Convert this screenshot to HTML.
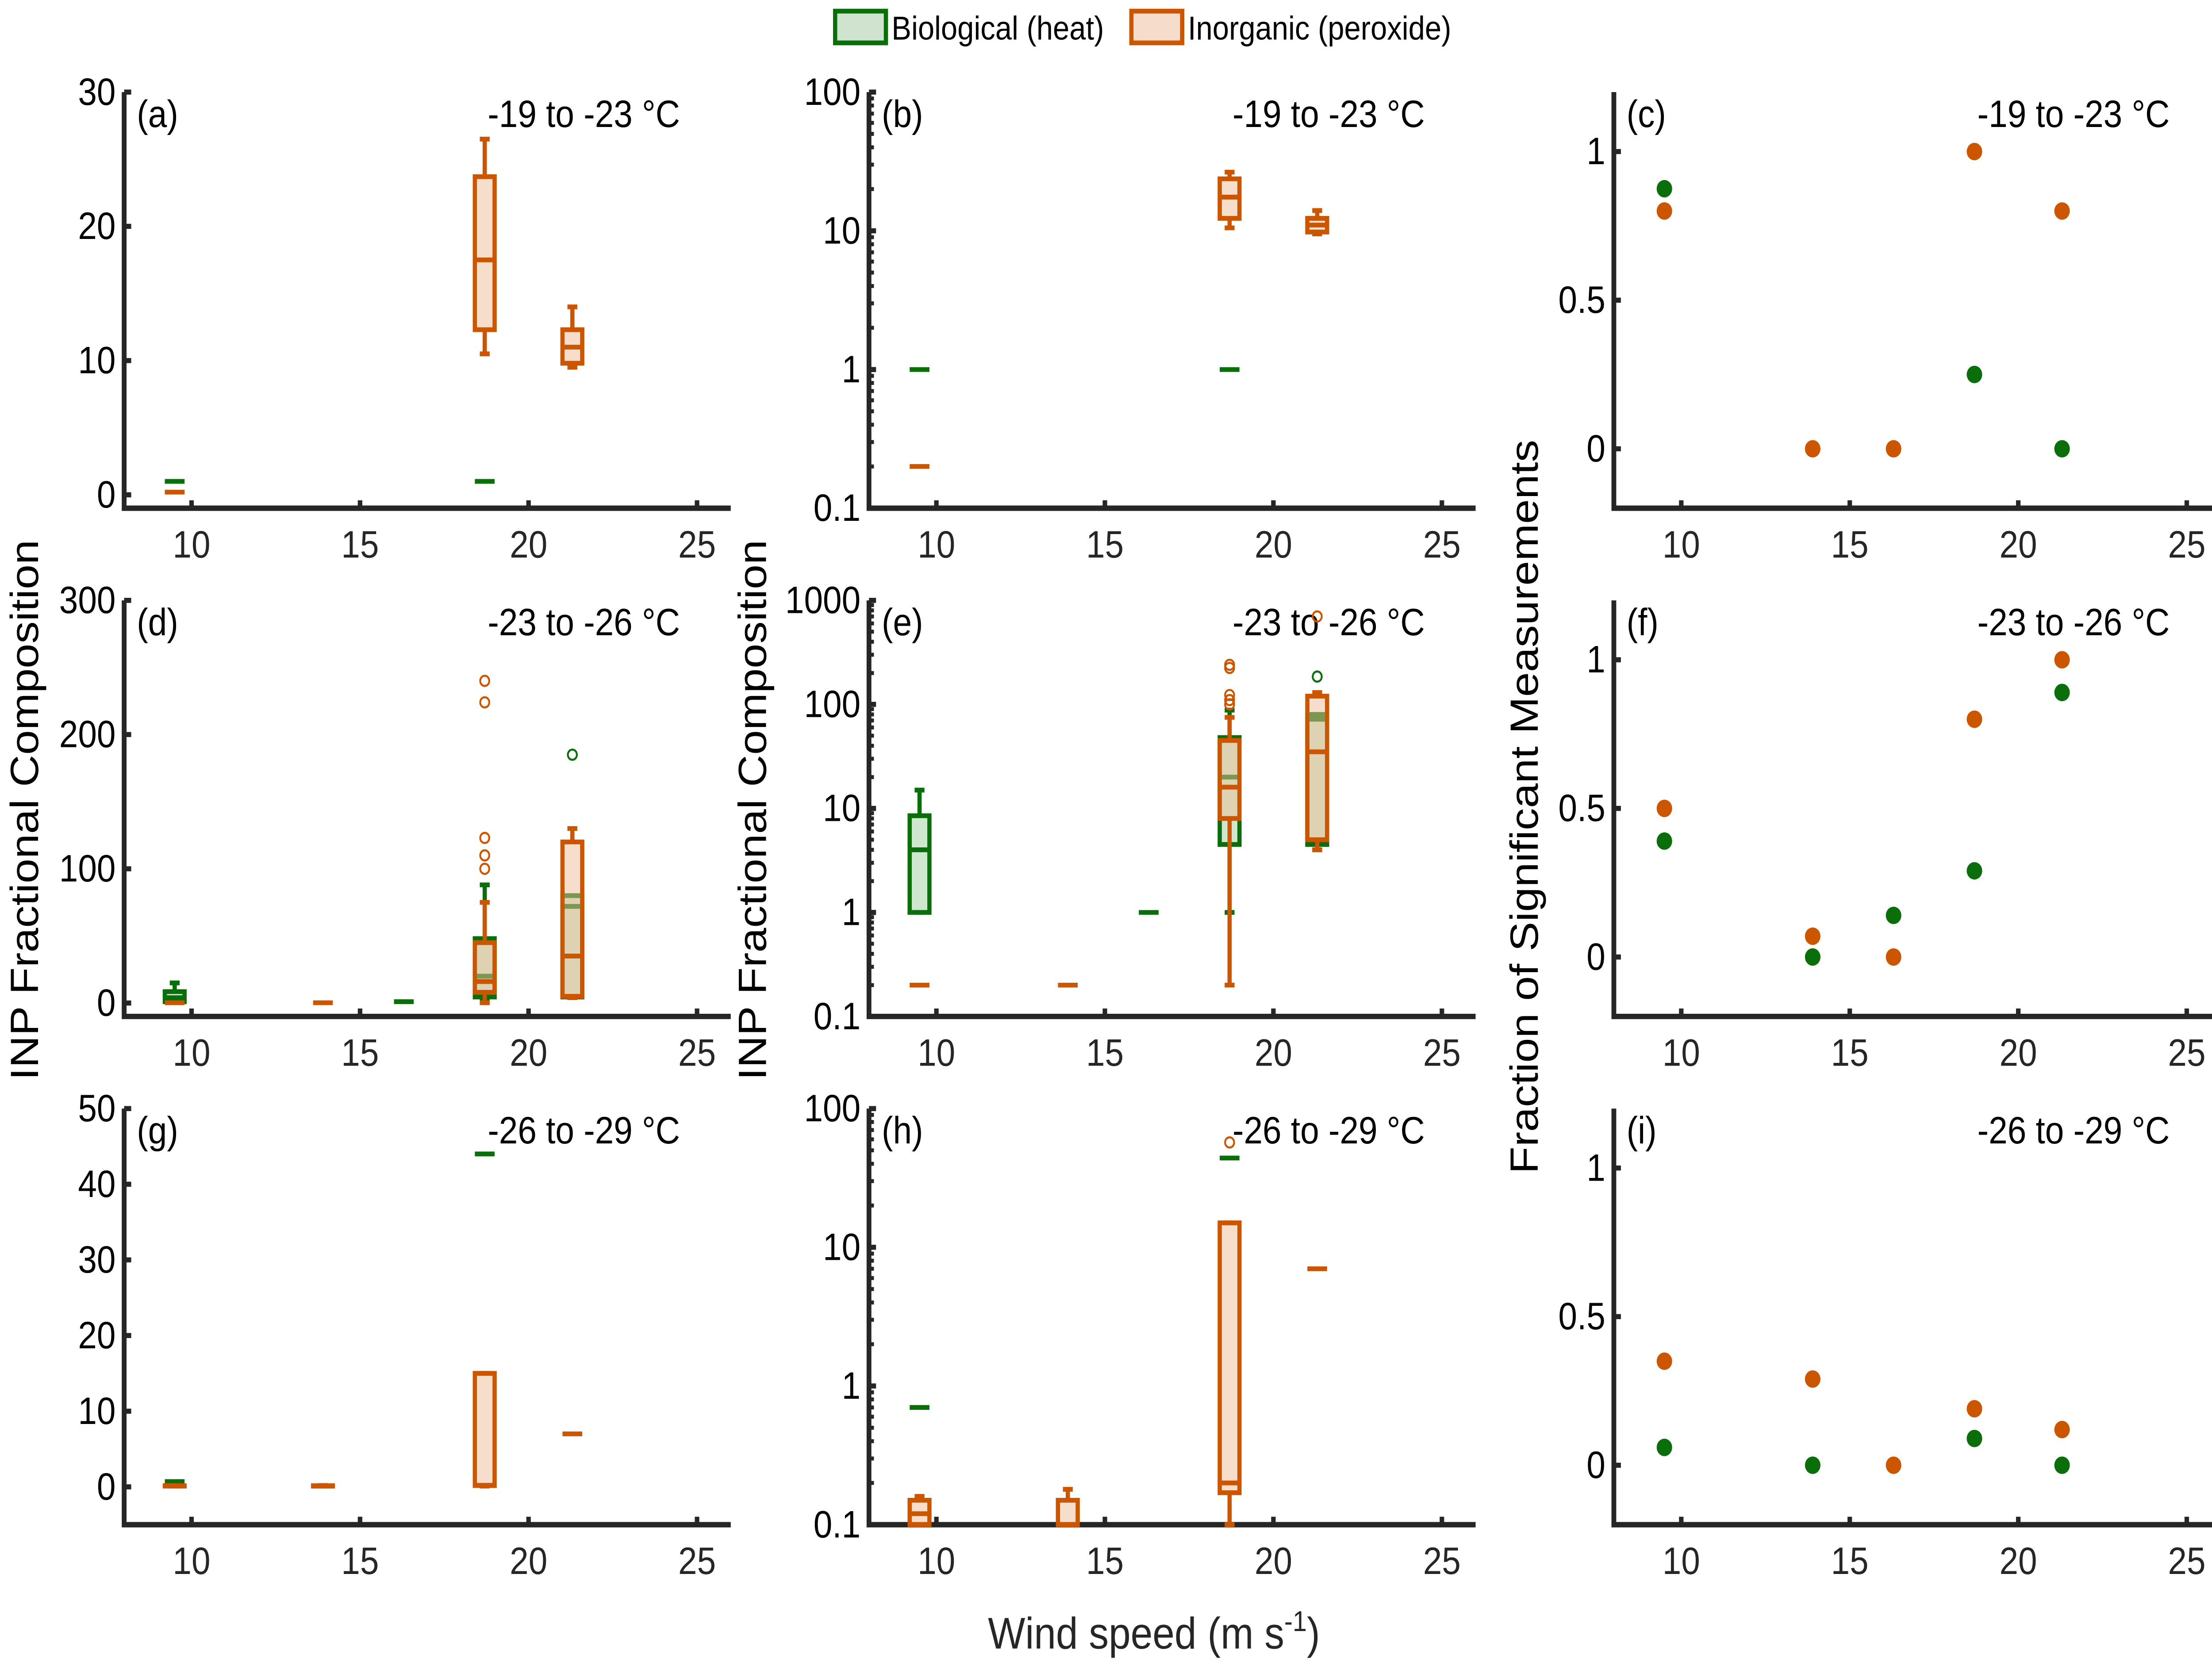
<!DOCTYPE html>
<html><head><meta charset="utf-8">
<style>
html,body{margin:0;padding:0;background:#fff;overflow:hidden;width:100vw;height:100vh;}
svg{display:block;font-family:"Liberation Sans",Arial,sans-serif;width:100vw;height:100vh;}
</style></head>
<body>
<svg id="fig" viewBox="0 0 1568 1051.5" preserveAspectRatio="none" xmlns="http://www.w3.org/2000/svg"></svg>
<script>
// ---- data ----
const windSpeeds = [9.5, 13.9, 16.3, 18.7, 21.3];
const xTicks = [10, 15, 20, 25];
const tempLabels = ["-19 to -23 °C", "-23 to -26 °C", "-26 to -29 °C"];
const panelLetters = [["(a)","(b)","(c)"],["(d)","(e)","(f)"],["(g)","(h)","(i)"]];
// box stats: [x, whiskerLow, q1, median, q3, whiskerHigh]
const bioRow1 = [[9.5,1,1,1,1,1],[18.7,1,1,1,1,1]];
const inoRow1 = [[9.5,0.2,0.2,0.2,0.2,0.2],[18.7,10.5,12.3,17.5,23.7,26.5],[21.3,9.5,9.8,11,12.3,14]];
const bioRow2 = [[9.5,1,1,4,8.5,15],[16.3,1,1,1,1,1],[18.7,1,4.5,20,48,88],[21.3,4,4.5,72,80,80]];
const inoRow2 = [[9.5,0.2,0.2,0.2,0.2,0.2],[13.9,0.2,0.2,0.2,0.2,0.2],[18.7,0.2,8,16,45,75],[21.3,4,5,35,120,130]];
const bioOut2 = [[21.3,185]];
const inoOut2 = [[18.7,100],[18.7,110],[18.7,123],[18.7,224],[18.7,240],[21.3,700]];
const bioRow3 = [[9.5,0.7,0.7,0.7,0.7,0.7],[18.7,44,44,44,44,44]];
const inoRow3 = [[9.5,0.1,0.1,0.12,0.15,0.16],[13.9,0.1,0.1,0.1,0.15,0.18],[18.7,0.1,0.17,0.2,15,15],[21.3,7,7,7,7,7]];
const inoOut3 = [[18.7,57]];
const bioFrac = [[0.875,null,null,0.25,0],[0.39,0,0.14,0.29,0.89],[0.06,0,null,0.09,0]];
const inoFrac = [[0.8,0,0,1,0.8],[0.5,0.07,0,0.8,1],[0.35,0.29,0,0.19,0.12]];
const linTicks = [[0,10,20,30],[0,100,200,300],[0,10,20,30,40,50]];
const linDomains = [[-1,30],[-10,300],[-5,50]];
const logTicks = [[0.1,1,10,100],[0.1,1,10,100,1000],[0.1,1,10,100]];
const logTickLabels = [["0.1","1","10","100"],["0.1","1","10","100","1000"],["0.1","1","10","100"]];
const fracTicks = [0,0.5,1];
const fracTickLabels = ["0","0.5","1"];

const GREEN="#0a6e0a", ORANGE="#cc5500", GFILL="rgba(160,205,160,0.5)", OFILL="rgba(240,190,150,0.5)";
const svg=document.getElementById('fig');
const NS="http://www.w3.org/2000/svg";
function mk(tag,attrs,parent){const e=document.createElementNS(NS,tag);for(const k in attrs)e.setAttribute(k,attrs[k]);(parent||svg).appendChild(e);return e;}
function txt(s,attrs,parent){const e=mk('text',attrs,parent);e.textContent=s;return e;}

const colLeft=[88,616,1144], colW=430;
const rowTop=[58,378,698], rowBot=[320,640,960];
const xDom=[8,26];
const FS=24;
const defs=mk('defs',{});

function xs(c,v){return colLeft[c]+(v-xDom[0])/(xDom[1]-xDom[0])*colW;}

for(let r=0;r<3;r++){
  for(let c=0;c<3;c++){
    const g=mk('g',{});
    
    
    const top=rowTop[r], bot=rowBot[r], L=colLeft[c];
    const cid='clip'+r+c;
    const cp=mk('clipPath',{id:cid},defs);
    mk('rect',{x:L-2,y:top-6,width:colW+4,height:bot-top+8},cp);
    let ys, yt, ytl;
    if(c===0){const d=linDomains[r];ys=v=>bot-(v-d[0])/(d[1]-d[0])*(bot-top);yt=linTicks[r];ytl=yt.map(String);}
    else if(c===1){const lo=Math.log10(0.1),hi=Math.log10(logTicks[r][logTicks[r].length-1]);ys=v=>bot-(Math.log10(v)-lo)/(hi-lo)*(bot-top);yt=logTicks[r];ytl=logTickLabels[r];}
    else {ys=v=>bot-(v+0.2)/1.4*(bot-top);yt=fracTicks;ytl=fracTickLabels;}
    const ax=mk('path',{d:`M${L} ${top}V${bot}H${L+colW}`,fill:'none',stroke:'#262626','stroke-width':3.4},g);
    
    
    xTicks.forEach(t=>{
      const x=xs(c,t);
      mk('line',{x1:x,x2:x,y1:bot,y2:bot-5,stroke:'#262626','stroke-width':3.2},g);
      const tl=txt(String(t),{x:x,y:bot+31,'text-anchor':'middle','font-size':FS,fill:'#262626'},g);
      
      
    });
    yt.forEach((t,i)=>{
      const y=ys(t);
      mk('line',{x1:L,x2:L+5,y1:y,y2:y,stroke:'#262626','stroke-width':3.2},g);
      const tl=txt(ytl[i],{x:L-6,y:y+8,'text-anchor':'end','font-size':FS,fill:'#000'},g);
      
      
    });
    if(c===1){
      for(let k=0;k<yt.length-1;k++)for(let m=2;m<10;m++){const y=ys(yt[k]*m);mk('line',{x1:L,x2:L+3.5,y1:y,y2:y,stroke:'#262626','stroke-width':2.5},g);}
    }
    const pl=txt(panelLetters[r][c],{x:L+9,y:top+22,'font-size':FS,fill:'#000'},g);
    
    
    const tl=txt(tempLabels[r],{x:L+394,y:top+22,'text-anchor':'end','font-size':FS,fill:'#000'},g);
    
    

    const pg=mk('g',{'clip-path':`url(#${cid})`},g);
    
    
    if(c<2){
      const sets=r===0?[[bioRow1,GREEN,GFILL],[inoRow1,ORANGE,OFILL]]:r===1?[[bioRow2,GREEN,GFILL],[inoRow2,ORANGE,OFILL]]:[[bioRow3,GREEN,GFILL],[inoRow3,ORANGE,OFILL]];
      sets.forEach(([data,col,fill],si)=>{
        data.forEach(b=>{
          const x=xs(c,b[0]);
          const hw=7;
          if(b[2]===b[4]){
            const ln=mk('line',{x1:x-7,x2:x+7,y1:ys(b[3]),y2:ys(b[3]),stroke:col,'stroke-width':3},pg);
            
            
            return;
          }
          const bg=mk('g',{},pg);
          
          
          mk('line',{x1:x,x2:x,y1:ys(b[1]),y2:ys(b[2]),stroke:col,'stroke-width':3},bg);
          mk('line',{x1:x,x2:x,y1:ys(b[4]),y2:ys(b[5]),stroke:col,'stroke-width':3},bg);
          mk('line',{x1:x-3.5,x2:x+3.5,y1:ys(b[1]),y2:ys(b[1]),stroke:col,'stroke-width':3},bg);
          mk('line',{x1:x-3.5,x2:x+3.5,y1:ys(b[5]),y2:ys(b[5]),stroke:col,'stroke-width':3},bg);
          mk('rect',{x:x-hw,y:ys(b[4]),width:2*hw,height:ys(b[2])-ys(b[4]),fill:fill,stroke:col,'stroke-width':3},bg);
          mk('line',{x1:x-hw,x2:x+hw,y1:ys(b[3]),y2:ys(b[3]),stroke:col,'stroke-width':3},bg);
        });
      });
      const outs=r===1?[[bioOut2,GREEN],[inoOut2,ORANGE]]:r===2?[[[],GREEN],[inoOut3,ORANGE]]:[];
      outs.forEach(([o,col],si)=>o.forEach(p=>{
        const ci=mk('circle',{cx:xs(c,p[0]),cy:ys(p[1]),r:3.2,fill:'none',stroke:col,'stroke-width':1.3},pg);
        
        
      }));
    } else {
      [[bioFrac[r],GREEN],[inoFrac[r],ORANGE]].forEach(([vals,col],si)=>vals.forEach((v,i)=>{
        if(v===null)return;
        const ci=mk('circle',{cx:xs(c,windSpeeds[i]),cy:ys(v),r:5.5,fill:col},pg);
        
        
      }));
    }
  }
}
let t=txt('INP Fractional Composition',{transform:'translate(27,510) rotate(-90)','text-anchor':'middle','font-size':28,fill:'#000'});


t=txt('INP Fractional Composition',{transform:'translate(543,510) rotate(-90)','text-anchor':'middle','font-size':28,fill:'#000'});


t=txt('Fraction of Significant Measurements',{transform:'translate(1090,508) rotate(-90)','text-anchor':'middle','font-size':28,fill:'#000'});


t=mk('text',{x:818,y:1038,'text-anchor':'middle','font-size':28,fill:'#262626'});
t.innerHTML='Wind speed (m s<tspan dy="-11" font-size="18">-1</tspan><tspan dy="11">)</tspan>';


const lg=mk('g',{});


let lr=mk('rect',{x:592,y:7,width:36,height:20,fill:'#cfe3cf',stroke:GREEN,'stroke-width':3},lg);


t=txt('Biological (heat)',{x:632,y:25,'font-size':21,fill:'#000'},lg);


lr=mk('rect',{x:802,y:7,width:36,height:20,fill:'#f5dccb',stroke:ORANGE,'stroke-width':3},lg);


t=txt('Inorganic (peroxide)',{x:842,y:25,'font-size':21,fill:'#000'},lg);


</script>
</body></html>
